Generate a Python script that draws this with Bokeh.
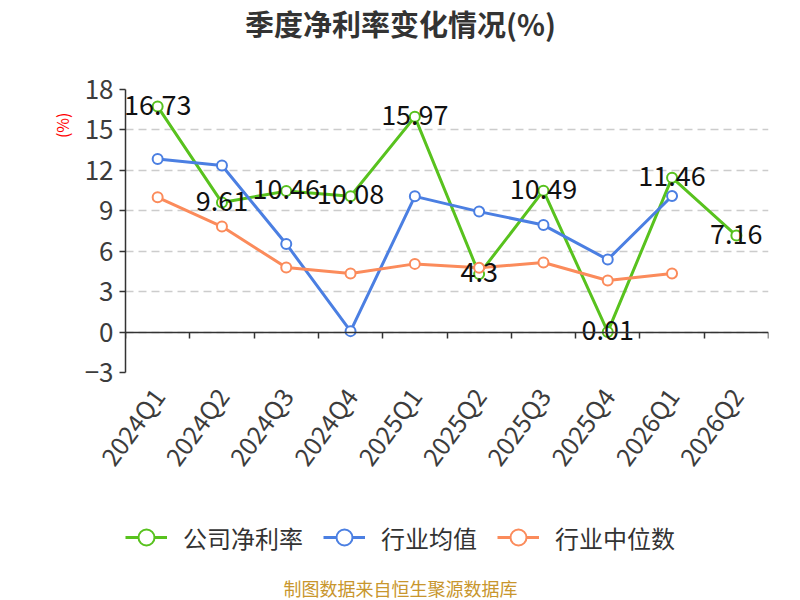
import math
from bokeh.plotting import figure
from bokeh.layouts import column
from bokeh.models import (ColumnDataSource, Range1d, LinearAxis, FixedTicker,
                          Legend, LegendItem, Title, Label)
from bokeh.core.properties import value
from bokeh.embed import file_html
from bokeh.resources import INLINE

quarters = ["2024Q1", "2024Q2", "2024Q3", "2024Q4", "2025Q1", "2025Q2",
            "2025Q3", "2025Q4", "2026Q1", "2026Q2"]
company = [16.73, 9.61, 10.46, 10.08, 15.97, 4.3, 10.49, 0.01, 11.46, 7.16]
industry_avg = [12.84, 12.36, 6.54, 0.07, 10.07, 8.94, 7.94, 5.38, 10.1]
industry_median = [10.0, 7.83, 4.79, 4.35, 5.06, 4.77, 5.16, 3.83, 4.35]
y_ticks = [-3, 0, 3, 6, 9, 12, 15, 18]

series_names = ["公司净利率", "行业均值", "行业中位数"]
colors = ["#58c21e", "#4b7fe2", "#fb8b5b"]
FONT = "Noto Sans CJK SC"
LEFT, RIGHT = 125, 32


def strip(height):
    f = figure(width=800, height=height, x_range=Range1d(0, 1), y_range=Range1d(0, 1),
               output_backend="svg", toolbar_location=None, min_border_left=LEFT,
               min_border_right=RIGHT, min_border_top=0, min_border_bottom=0)
    f.axis.visible = False
    f.grid.visible = False
    f.outline_line_color = None
    return f


# ---- title strip ----
t = strip(45)
t.add_layout(Label(x=275, y=23, x_units="screen", y_units="screen",
                   text="季度净利率变化情况(%)", text_font=FONT, text_font_size="29px",
                   text_font_style="bold", text_color="#333333",
                   text_align="center", text_baseline="middle"))

# category centres on a numeric axis (band i spans [i, i+1])
centers = [i + 0.5 for i in range(len(quarters))]

p = figure(width=800, height=440, x_range=Range1d(0, len(quarters)),
           y_range=Range1d(y_ticks[0], y_ticks[-1]),
           output_backend="svg", toolbar_location=None,
           min_border_left=LEFT, min_border_right=RIGHT, min_border_top=44, min_border_bottom=110)
p.outline_line_color = None
p.background_fill_color = "white"

# grid
p.xgrid.visible = False
p.yaxis.ticker = FixedTicker(ticks=y_ticks)
p.ygrid.grid_line_color = "#cccccc"
p.ygrid.grid_line_dash = "8 5"
p.ygrid.grid_line_width = 1.5

# y axis
ya = p.yaxis[0]
ya.axis_line_color = "#333333"
ya.axis_line_width = 1.5
ya.major_tick_line_color = "#333333"
ya.major_tick_line_width = 1.5
ya.major_tick_out = 6
ya.major_tick_in = 0
ya.minor_tick_line_color = None
ya.major_label_text_font = FONT
ya.major_label_text_font_size = "26px"
ya.major_label_text_color = "#3c3c3c"
ya.major_label_standoff = 6

# x axis (labels only)
xa = p.xaxis[0]
xa.ticker = FixedTicker(ticks=centers)
xa.major_label_overrides = {c: q for c, q in zip(centers, quarters)}
xa.axis_line_color = None
xa.major_tick_line_color = None
xa.minor_tick_line_color = None
xa.major_label_text_font = FONT
xa.major_label_text_font_size = "25px"
xa.major_label_text_color = "#3c3c3c"
xa.major_label_orientation = math.radians(54)
xa.major_label_standoff = 12

# x axis line at y=0 with ticks at category boundaries
zero_axis = LinearAxis(ticker=FixedTicker(ticks=list(range(len(quarters) + 1))),
                       fixed_location=0)
zero_axis.axis_line_color = "#333333"
zero_axis.axis_line_width = 1.5
zero_axis.major_tick_line_color = "#333333"
zero_axis.major_tick_line_width = 1.5
zero_axis.major_tick_out = 6
zero_axis.major_tick_in = 0
zero_axis.minor_tick_line_color = None
zero_axis.major_label_text_font_size = "0px"
zero_axis.major_label_text_color = None
p.add_layout(zero_axis, "below")

all_values = [company, industry_avg, industry_median]
for name, vals, col in zip(series_names, all_values, colors):
    src = ColumnDataSource(dict(x=centers[:len(vals)], y=vals))
    p.line("x", "y", source=src, line_color=col, line_width=3)
    p.scatter("x", "y", source=src, size=10, marker="circle",
              fill_color="white", line_color=col, line_width=2)

# data labels for company
lab_src = ColumnDataSource(dict(x=centers, y=company, t=[str(v) for v in company]))
p.text("x", "y", text="t", source=lab_src, text_font=value(FONT), text_font_size="27px",
       text_color="#111111", text_align="center", text_baseline="middle", y_offset=-2)

# unit label on the left
unit = Title(text="(%)", align="right", offset=23, text_font=FONT, text_font_size="16px",
             text_color="#ff0000", text_font_style="normal", standoff=15)
p.add_layout(unit, "left")

# ---- legend + footer strip ----
p2 = strip(115)
items = []
for name, col in zip(series_names, colors):
    nan_src = ColumnDataSource(dict(x=[float("nan")], y=[float("nan")]))
    l2 = p2.line("x", "y", source=nan_src, line_color=col, line_width=3)
    s2 = p2.scatter("x", "y", source=nan_src, size=17, marker="circle",
                    fill_color="white", line_color=col, line_width=2)
    items.append(LegendItem(label=name, renderers=[l2, s2]))

legend = Legend(items=items, orientation="horizontal", location=(0, 43))
legend.label_text_font = FONT
legend.label_text_font_size = "24px"
legend.label_text_color = "#333333"
legend.glyph_width = 42
legend.glyph_height = 40
legend.label_standoff = 16
legend.spacing = 20
legend.margin = 0
legend.padding = 0
legend.background_fill_alpha = 0
legend.border_line_color = None
p2.add_layout(legend, "center")

p2.add_layout(Label(x=275, y=13, x_units="screen", y_units="screen",
                    text="制图数据来自恒生聚源数据库", text_font=FONT, text_font_size="18px",
                    text_color="#c8962d", text_align="center", text_baseline="middle"))

open("out.html", "w").write(file_html(column(t, p, p2, spacing=0), INLINE))
